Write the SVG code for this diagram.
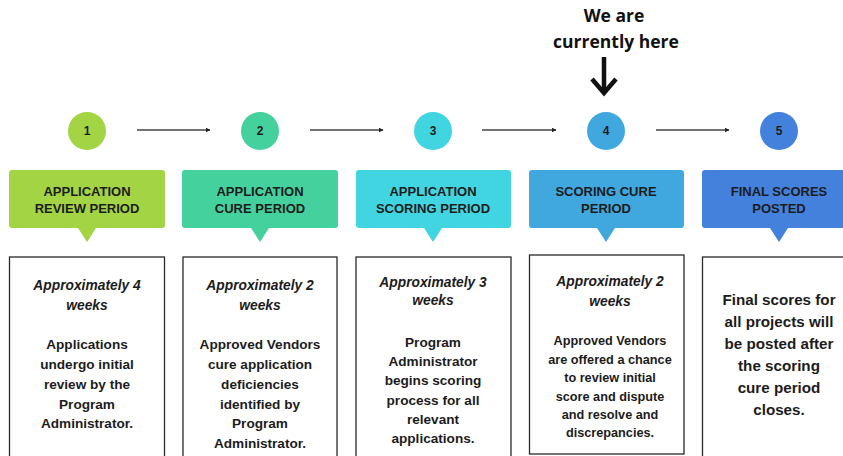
<svg xmlns="http://www.w3.org/2000/svg" width="843" height="456" viewBox="0 0 843 456">
<defs>
<marker id="ah" viewBox="0 0 10 10" refX="9" refY="5" markerWidth="5" markerHeight="5" orient="auto" markerUnits="userSpaceOnUse">
<path d="M0,0 L10,5 L0,10 z" fill="#222"/>
</marker>
<style>
text{font-family:"Liberation Sans",Arial,sans-serif;font-weight:bold;fill:#1c1c1c;text-anchor:middle}
.num{font-size:12px}
.lbl{font-size:13px}
.it{font-size:13.8px;font-style:italic}
.body{font-size:13.6px}
.body4{font-size:12.7px}
.body5{font-size:15.2px}
.top{font-family:"Open Sans","Liberation Sans",sans-serif;font-weight:700;font-size:17.5px;fill:#111}
.desc{fill:#fff;stroke:#2a2a2a;stroke-width:1.3}
.conn{stroke:#444;stroke-width:1.6;fill:none}
</style>
</defs>
<rect width="843" height="456" fill="#fff"/>

<g id="header">
<text class="top" x="614" y="22">We are</text>
<text class="top" x="616" y="48">currently here</text>
<line x1="604" y1="57" x2="604" y2="92" stroke="#111" stroke-width="4.5"/>
<polyline points="592,79 604,93 616,79" fill="none" stroke="#111" stroke-width="4.5" stroke-linejoin="miter"/>
</g>

<g id="connectors">
<line class="conn" x1="137" y1="130" x2="210" y2="130" marker-end="url(#ah)"/>
<line class="conn" x1="310" y1="130" x2="383" y2="130" marker-end="url(#ah)"/>
<line class="conn" x1="482" y1="130" x2="556" y2="130" marker-end="url(#ah)"/>
<line class="conn" x1="656" y1="130" x2="729" y2="130" marker-end="url(#ah)"/>
</g>

<g id="step1">
<circle cx="87" cy="131" r="19" fill="#a2d443"/>
<text class="num" x="87" y="135">1</text>
<path d="M12,170 H162 a3,3 0 0 1 3,3 V225 a3,3 0 0 1 -3,3 H96 L87,242 L78,228 H12 a3,3 0 0 1 -3,-3 V173 a3,3 0 0 1 3,-3 z" fill="#a2d443"/>
<text class="lbl" x="87" y="196">APPLICATION</text>
<text class="lbl" x="87" y="213">REVIEW PERIOD</text>
<rect class="desc" x="9.5" y="257" width="155" height="210"/>
<text class="it" x="87" y="290">Approximately 4</text>
<text class="it" x="87" y="310">weeks</text>
<text class="body" x="87" y="349">Applications</text>
<text class="body" x="87" y="369">undergo initial</text>
<text class="body" x="87" y="389">review by the</text>
<text class="body" x="87" y="409">Program</text>
<text class="body" x="87" y="428">Administrator.</text>
</g>

<g id="step2">
<circle cx="260" cy="131" r="19" fill="#45d19e"/>
<text class="num" x="260" y="135">2</text>
<path d="M185,170 H335 a3,3 0 0 1 3,3 V225 a3,3 0 0 1 -3,3 H269 L260,242 L251,228 H185 a3,3 0 0 1 -3,-3 V173 a3,3 0 0 1 3,-3 z" fill="#45d19e"/>
<text class="lbl" x="260" y="196">APPLICATION</text>
<text class="lbl" x="260" y="213">CURE PERIOD</text>
<rect class="desc" x="183" y="257" width="154" height="210"/>
<text class="it" x="260" y="290">Approximately 2</text>
<text class="it" x="260" y="310">weeks</text>
<text class="body" x="260" y="349">Approved Vendors</text>
<text class="body" x="260" y="369">cure application</text>
<text class="body" x="260" y="389">deficiencies</text>
<text class="body" x="260" y="409">identified by</text>
<text class="body" x="260" y="428">Program</text>
<text class="body" x="260" y="448">Administrator.</text>
</g>

<g id="step3">
<circle cx="433" cy="131" r="19" fill="#40d5e1"/>
<text class="num" x="433" y="135">3</text>
<path d="M359,170 H508 a3,3 0 0 1 3,3 V225 a3,3 0 0 1 -3,3 H442 L433,242 L424,228 H359 a3,3 0 0 1 -3,-3 V173 a3,3 0 0 1 3,-3 z" fill="#40d5e1"/>
<text class="lbl" x="433" y="196">APPLICATION</text>
<text class="lbl" x="433" y="213">SCORING PERIOD</text>
<rect class="desc" x="356" y="257" width="155" height="210"/>
<text class="it" x="433" y="287">Approximately 3</text>
<text class="it" x="433" y="305">weeks</text>
<text class="body" x="433" y="347">Program</text>
<text class="body" x="433" y="366">Administrator</text>
<text class="body" x="433" y="385">begins scoring</text>
<text class="body" x="433" y="405">process for all</text>
<text class="body" x="433" y="424">relevant</text>
<text class="body" x="433" y="443">applications.</text>
</g>

<g id="step4">
<circle cx="606" cy="131" r="19" fill="#40a7df"/>
<text class="num" x="606" y="135">4</text>
<path d="M532,170 H681 a3,3 0 0 1 3,3 V225 a3,3 0 0 1 -3,3 H615 L606,242 L597,228 H532 a3,3 0 0 1 -3,-3 V173 a3,3 0 0 1 3,-3 z" fill="#40a7df"/>
<text class="lbl" x="606" y="196">SCORING CURE</text>
<text class="lbl" x="606" y="213">PERIOD</text>
<rect class="desc" x="529.5" y="255" width="154.5" height="199"/>
<text class="it" x="610" y="286">Approximately 2</text>
<text class="it" x="610" y="306">weeks</text>
<text class="body4" x="610" y="345">Approved Vendors</text>
<text class="body4" x="610" y="364">are offered a chance</text>
<text class="body4" x="610" y="382">to review initial</text>
<text class="body4" x="610" y="401">score and dispute</text>
<text class="body4" x="610" y="419">and resolve and</text>
<text class="body4" x="610" y="437">discrepancies.</text>
</g>

<g id="step5">
<circle cx="779" cy="131" r="19" fill="#4381dc"/>
<text class="num" x="779" y="135">5</text>
<path d="M705,170 H854 a3,3 0 0 1 3,3 V225 a3,3 0 0 1 -3,3 H788 L779,242 L770,228 H705 a3,3 0 0 1 -3,-3 V173 a3,3 0 0 1 3,-3 z" fill="#4381dc"/>
<text class="lbl" x="779" y="196">FINAL SCORES</text>
<text class="lbl" x="779" y="213">POSTED</text>
<rect class="desc" x="702.5" y="257" width="155" height="210"/>
<text class="body5" x="779" y="305">Final scores for</text>
<text class="body5" x="779" y="327">all projects will</text>
<text class="body5" x="779" y="349">be posted after</text>
<text class="body5" x="779" y="371">the scoring</text>
<text class="body5" x="779" y="393">cure period</text>
<text class="body5" x="779" y="415">closes.</text>
</g>
</svg>
